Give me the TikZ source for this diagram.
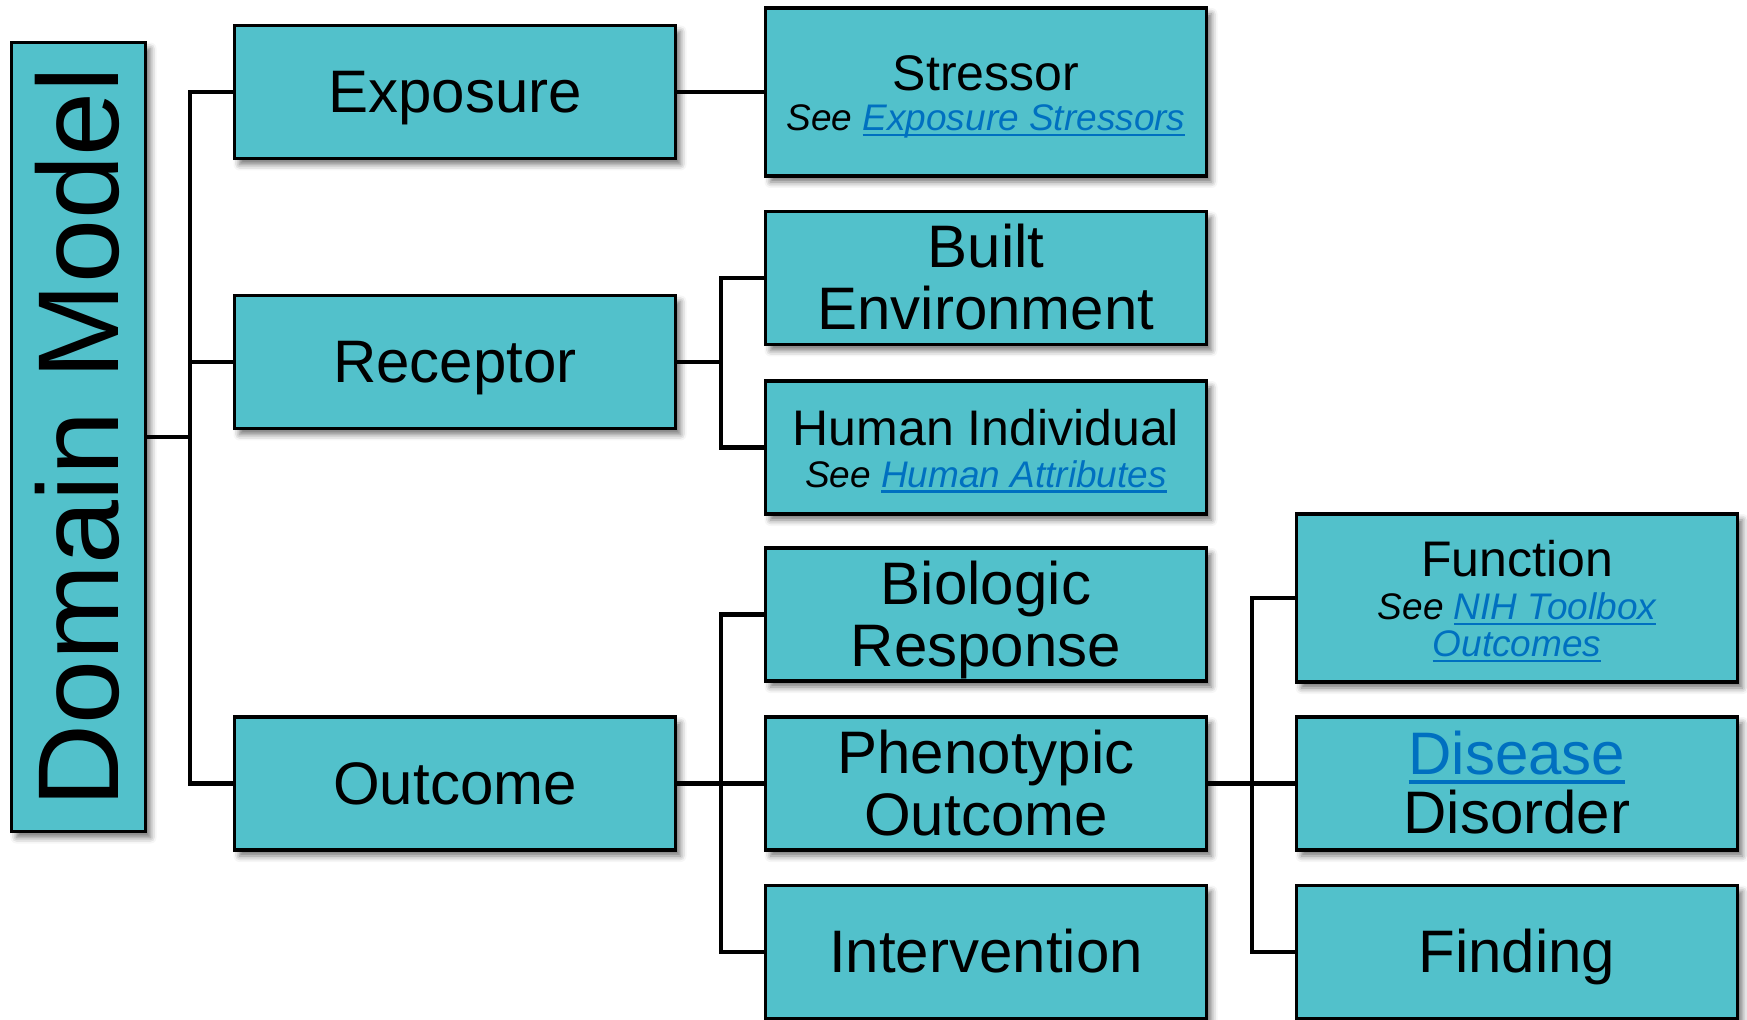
\documentclass[tikz,border=0pt]{standalone}
\usepackage{fontspec}
\setmainfont{Liberation Sans}
\usepackage{graphicx}
\usetikzlibrary{shadows.blur}

\definecolor{boxfill}{HTML}{52C1CB}
\definecolor{linkblue}{HTML}{0070C0}

% hyperlink look: blue, underlined at a fixed depth below the baseline
\newcommand{\lnkraw}[1]{\textcolor{linkblue}{\setbox0\hbox{#1}\rlap{\rule[-0.15em]{\wd0}{0.065em}}\box0}}
\newcommand{\lnk}[1]{\lnkraw{\itshape #1}}
% line strut with the full ascent and descent of the font
\newcommand{\ls}{\rule[-0.212em]{0pt}{1.117em}}

\tikzset{
  box/.style={draw=black, line width=1.9pt, fill=boxfill, inner sep=0pt,
    minimum width=220.5pt, minimum height=66.5pt, align=center,
    blur shadow={shadow xshift=2.5pt, shadow yshift=-3pt, shadow blur radius=3pt, shadow opacity=55},
    font=\fontsize{30}{31}\selectfont},
  tallbox/.style={box, minimum height=84pt},
  conn/.style={draw=black, line width=2.2pt, line join=miter},
}

\begin{document}
% baselines are always spaced by \baselineskip, even with the tall line struts
\lineskiplimit=-\maxdimen
\begin{tikzpicture}[x=0.5pt, y=-0.5pt]
  \useasboundingbox (0,0) rectangle (1747,1020);

  % root
  \node[box, minimum width=67pt, minimum height=394.5pt, font=\fontsize{57.5}{60}\selectfont]
    (dm) at (78.5,437) {\rotatebox{90}{\ls Domain Model}};

  % first level
  \node[box] (exp) at (455,92)    {\ls Exposure};
  \node[box] (rec) at (455,362)   {\ls Receptor};
  \node[box] (out) at (455,783.5) {\ls Outcome};

  % second level
  \node[tallbox, font=\fontsize{25}{20}\selectfont] (str) at (986,92)
    {\ls Stressor\\{\fontsize{18.5}{20}\selectfont\itshape\ls See \lnk{Exposure Stressors}}};
  \node[box] (blt) at (986,278) {\ls Built\\\ls Environment};
  \node[box, font=\fontsize{25}{21}\selectfont] (hum) at (986,447.5)
    {\ls Human Individual\\{\fontsize{18.5}{20}\selectfont\itshape\ls See \lnk{Human Attributes}}};
  \node[box] (bio) at (986,614.5) {\ls Biologic\\\ls Response};
  \node[box] (phe) at (986,783.5) {\ls Phenotypic\\\ls Outcome};
  \node[box] (itv) at (986,952)   {\ls Intervention};

  % third level
  \node[tallbox, font=\fontsize{25}{18.5}\selectfont] (fun) at (1517,598)
    {\ls Function\\[3pt]{\fontsize{18.5}{20}\selectfont\itshape\ls See \lnk{NIH Toolbox}}\\{\fontsize{18.5}{20}\selectfont\ls\lnk{Outcomes}}};
  \node[box, font=\fontsize{30}{29.5}\selectfont] (dis) at (1517,783.5)
    {\ls\lnkraw{Disease}\\\ls Disorder};
  \node[box] (fin) at (1517,952) {\ls Finding};

  % trunk lines
  \coordinate (t1) at (190,0);
  \coordinate (t2) at (721,0);
  \coordinate (t3) at (1252,0);

  \draw[conn] (dm.east) -- (dm.east -| t1);
  \draw[conn] (exp.west) -| (t1 |- out.west) -- (out.west);
  \draw[conn] (rec.west) -- (rec.west -| t1);

  \draw[conn] (exp.east) -- (str.west);

  \draw[conn] (rec.east) -- (rec.east -| t2);
  \draw[conn] (blt.west) -| (t2 |- hum.west) -- (hum.west);

  \draw[conn] (out.east) -- (phe.west);
  \draw[conn] (bio.west) -| (t2 |- itv.west) -- (itv.west);

  \draw[conn] (phe.east) -- (dis.west);
  \draw[conn] (fun.west) -| (t3 |- fin.west) -- (fin.west);
\end{tikzpicture}
\end{document}
